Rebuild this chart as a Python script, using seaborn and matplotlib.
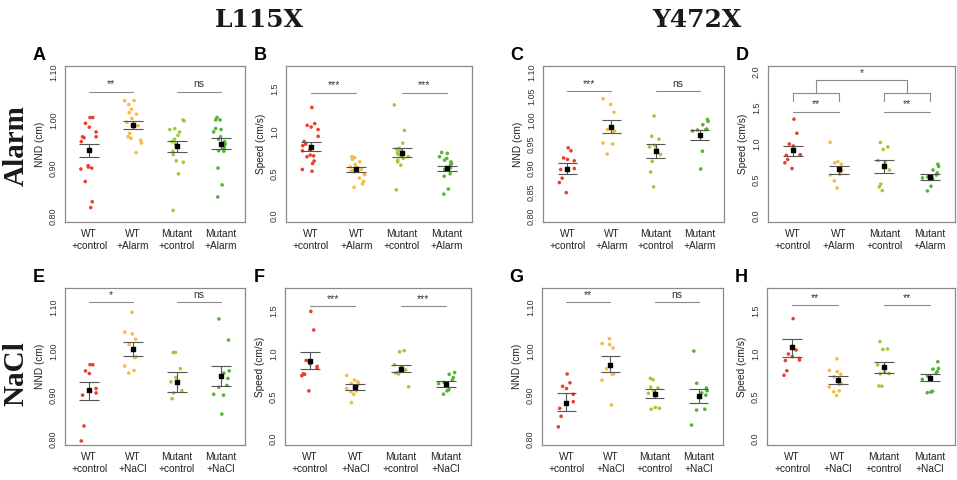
import numpy as np
import pandas as pd
import seaborn as sns
import matplotlib.pyplot as plt

sns.set_theme(style="white")
plt.rcParams['font.family'] = ['Liberation Sans', 'DejaVu Sans']

# ---- colours per group (WT ctrl, WT treat, Mutant ctrl, Mutant treat)
COLORS = ["#e8402c", "#f6bb43", "#9dcb3a", "#52b534"]
GREY = "#8a8a8a"

# ===============================
# Panel data
# ===============================
# A: L115X alarm, NND
a_wt_ctrl = [1.005, 1.005, 0.993, 0.985, 0.975, 0.965, 0.965, 0.963, 0.955, 0.905, 0.898,
             0.902, 0.900, 0.872, 0.830, 0.818]
a_wt_trt = [1.040, 1.040, 1.032, 1.022, 1.015, 1.012, 1.003, 0.995, 0.985, 0.988, 0.972,
            0.965, 0.962, 0.958, 0.952, 0.932]
a_mu_ctrl = [0.998, 1.000, 0.982, 0.980, 0.975, 0.968, 0.960, 0.955, 0.950, 0.945, 0.935,
             0.928, 0.915, 0.912, 0.888, 0.812]
a_mu_trt = [1.005, 1.000, 1.000, 0.982, 0.980, 0.975, 0.965, 0.960, 0.955, 0.950, 0.945,
            0.940, 0.936, 0.935, 0.900, 0.865, 0.840]
a_mean = [0.937, 0.990, 0.945, 0.950]
a_lo = [0.922, 0.981, 0.933, 0.939]
a_hi = [0.951, 0.998, 0.957, 0.962]

# B: L115X alarm, speed
b_wt_ctrl = [1.28, 1.09, 1.07, 1.05, 1.02, 0.94, 0.88, 0.85, 0.83, 0.78, 0.77, 0.72, 0.71,
             0.70, 0.65, 0.62, 0.55, 0.53]
b_wt_trt = [0.70, 0.69, 0.67, 0.64, 0.61, 0.58, 0.57, 0.55, 0.54, 0.53, 0.52, 0.50, 0.49,
            0.45, 0.41, 0.38, 0.34]
b_mu_ctrl = [1.31, 1.01, 0.86, 0.80, 0.79, 0.78, 0.77, 0.75, 0.73, 0.71, 0.70, 0.68, 0.66,
             0.64, 0.60, 0.31]
b_mu_trt = [0.75, 0.74, 0.70, 0.68, 0.66, 0.64, 0.62, 0.60, 0.57, 0.55, 0.50, 0.47, 0.32, 0.26]
b_mean = [0.813, 0.552, 0.746, 0.567]
b_lo = [0.770, 0.525, 0.694, 0.528]
b_hi = [0.873, 0.577, 0.800, 0.595]

# C: Y472X alarm, NND
c_wt_ctrl = [0.942, 0.936, 0.921, 0.918, 0.915, 0.899, 0.897, 0.879, 0.870, 0.849]
c_wt_trt = [1.044, 1.032, 1.016, 0.980, 0.977, 0.974, 0.952, 0.950, 0.929]
c_mu_ctrl = [1.008, 0.966, 0.960, 0.947, 0.944, 0.940, 0.928, 0.914, 0.892, 0.861]
c_mu_trt = [1.001, 0.997, 0.990, 0.981, 0.980, 0.979, 0.977, 0.935, 0.898]
c_mean = [0.899, 0.985, 0.936, 0.969]
c_lo = [0.887, 0.972, 0.921, 0.958]
c_hi = [0.910, 0.999, 0.949, 0.980]

# D: Y472X alarm, speed
d_wt_ctrl = [1.344, 1.149, 1.000, 0.972, 0.850, 0.847, 0.843, 0.786, 0.740, 0.660]
d_wt_trt = [1.023, 0.755, 0.720, 0.740, 0.640, 0.600, 0.570, 0.580, 0.490, 0.390]
d_mu_ctrl = [1.020, 0.960, 0.925, 0.770, 0.745, 0.640, 0.445, 0.405, 0.355]
d_mu_trt = [0.720, 0.690, 0.640, 0.600, 0.570, 0.545, 0.530, 0.520, 0.415, 0.350]
d_mean = [0.916, 0.647, 0.693, 0.544]
d_lo = [0.837, 0.581, 0.605, 0.507]
d_hi = [0.977, 0.698, 0.777, 0.591]

# E: L115X NaCl, NND
e_wt_ctrl = [0.969, 0.969, 0.955, 0.949, 0.915, 0.905, 0.900, 0.830, 0.796]
e_wt_trt = [1.088, 1.043, 1.039, 1.027, 1.015, 0.987, 0.985, 0.966, 0.956, 0.950]
e_mu_ctrl = [0.997, 0.997, 0.960, 0.940, 0.930, 0.928, 0.910, 0.905, 0.892]
e_mu_trt = [1.073, 1.025, 0.955, 0.950, 0.938, 0.922, 0.918, 0.902, 0.900, 0.857]
e_mean = [0.911, 1.005, 0.930, 0.944]
e_lo = [0.889, 0.989, 0.908, 0.921]
e_hi = [0.930, 1.020, 0.953, 0.966]

# F: L115X NaCl, speed
f_wt_ctrl = [1.494, 1.277, 0.921, 0.880, 0.850, 0.830, 0.763, 0.759, 0.743, 0.565]
f_wt_trt = [0.745, 0.692, 0.668, 0.652, 0.640, 0.620, 0.593, 0.565, 0.555, 0.525, 0.427]
f_mu_ctrl = [1.035, 1.022, 0.870, 0.845, 0.810, 0.780, 0.772, 0.763, 0.613]
f_mu_trt = [0.779, 0.759, 0.720, 0.690, 0.664, 0.650, 0.580, 0.565, 0.526]
f_mean = [0.917, 0.605, 0.826, 0.644]
f_lo = [0.818, 0.573, 0.783, 0.609]
f_hi = [1.016, 0.640, 0.870, 0.680]

# G: Y472X NaCl, NND
g_wt_ctrl = [0.948, 0.928, 0.920, 0.915, 0.902, 0.885, 0.870, 0.852, 0.828]
g_wt_trt = [1.028, 1.017, 1.015, 1.007, 0.960, 0.948, 0.948, 0.934, 0.878]
g_mu_ctrl = [0.938, 0.935, 0.918, 0.916, 0.910, 0.904, 0.872, 0.870, 0.868]
g_mu_trt = [1.000, 0.927, 0.916, 0.910, 0.905, 0.900, 0.868, 0.866, 0.832]
g_mean = [0.883, 0.969, 0.903, 0.898]
g_lo = [0.863, 0.953, 0.894, 0.882]
g_hi = [0.904, 0.988, 0.913, 0.915]

# H: Y472X NaCl, speed
h_wt_ctrl = [1.410, 1.043, 0.996, 0.965, 0.945, 0.925, 0.920, 0.800, 0.748]
h_wt_trt = [0.940, 0.805, 0.790, 0.760, 0.730, 0.650, 0.640, 0.610, 0.565, 0.555, 0.510]
h_mu_ctrl = [1.142, 1.055, 1.050, 0.870, 0.780, 0.768, 0.765, 0.622, 0.620]
h_mu_trt = [0.905, 0.827, 0.819, 0.790, 0.770, 0.740, 0.700, 0.560, 0.550, 0.543]
h_mean = [1.075, 0.689, 0.839, 0.717]
h_lo = [0.957, 0.642, 0.776, 0.681]
h_hi = [1.173, 0.736, 0.906, 0.768]

alarm_labels = ["WT\n+control", "WT\n+Alarm", "Mutant\n+control", "Mutant\n+Alarm"]
nacl_labels = ["WT\n+control", "WT\n+NaCl", "Mutant\n+control", "Mutant\n+NaCl"]

nnd_ticks = [0.80, 0.90, 1.00, 1.10]
nnd_ticks_fine = [0.80, 0.85, 0.90, 0.95, 1.00, 1.05, 1.10]
speed_ticks = [0.0, 0.5, 1.0, 1.5]
speed_ticks_d = [0.0, 0.5, 1.0, 1.5, 2.0]

W, H = 957, 480


def r_lim(lo, hi):
    # R style 4% extension
    pad = (hi - lo) * 0.04
    return lo - pad, hi + pad


def sig_bar(ax, x0, x1, y, txt):
    ax.plot([x0, x1], [y, y], color=GREY, lw=0.8)
    ax.annotate(txt, xy=((x0 + x1) / 2, y), xytext=(0, 1.5), textcoords="offset points",
                ha="center", va="bottom", fontsize=7.5, color="#333333")


def draw_panel(box, letter, groups, mean, lo, hi, xlabels, ylim, yticks, ylabel,
               fmt, sigs, sig_y, label_every=1):
    left, top, right, bottom = box
    ax = fig.add_axes([left / W, 1 - bottom / H, (right - left) / W, (bottom - top) / H])
    df = pd.DataFrame({
        "group": np.concatenate([[lab] * len(v) for lab, v in zip(xlabels, groups)]),
        "value": np.concatenate(groups),
    })
    np.random.seed(3)
    sns.stripplot(data=df, x="group", y="value", hue="group", order=xlabels,
                  palette=COLORS, jitter=0.2, size=2.6, linewidth=0, legend=False, ax=ax,
                  zorder=2)
    xs = np.arange(len(xlabels))
    ax.hlines(lo, xs - 0.22, xs + 0.22, color="#555555", lw=0.8, zorder=3)
    ax.hlines(hi, xs - 0.22, xs + 0.22, color="#555555", lw=0.8, zorder=3)
    ax.vlines(xs, lo, hi, color="#555555", lw=0.8, zorder=3)
    ax.scatter(xs, mean, marker="s", s=6, color="black", zorder=4)

    ax.set_xlim(-0.55, 3.55)
    ax.set_ylim(*r_lim(*ylim))
    ax.set_yticks(yticks)
    ax.set_yticklabels([(fmt % t) if i % label_every == 0 else "" for i, t in enumerate(yticks)],
                       rotation=90, va="center", fontsize=6.5, color="#333333")
    ax.set_xticks(xs)
    ax.set_xticklabels(xlabels, fontsize=7.3, color="#222222", linespacing=1.25)
    ax.set_xlabel("")
    ax.set_ylabel(ylabel, fontsize=7.3, color="#222222", labelpad=3)
    ax.tick_params(axis="both", direction="out", length=3, width=0.7, color=GREY, pad=2)
    for sp in ax.spines.values():
        sp.set_color(GREY)
        sp.set_linewidth(0.9)
    for (x0, x1), txt in zip([(0, 1), (2, 3)], sigs):
        sig_bar(ax, x0, x1, sig_y, txt)
    fig.text((left - 26) / W, 1 - (top - 10) / H, letter, fontsize=13, fontweight="bold",
             ha="center", va="center", color="black")
    return ax


fig = plt.figure(figsize=(9.57, 4.8), dpi=100)

draw_panel((65, 66, 245, 222), "A", [a_wt_ctrl, a_wt_trt, a_mu_ctrl, a_mu_trt], a_mean, a_lo, a_hi,
           alarm_labels, (0.80, 1.10), nnd_ticks, "NND (cm)", "%.2f", ["**", "ns"], 1.059)
draw_panel((286, 66, 472, 222), "B", [b_wt_ctrl, b_wt_trt, b_mu_ctrl, b_mu_trt], b_mean, b_lo, b_hi,
           alarm_labels, (0.0, 1.7), speed_ticks, "Speed (cm/s)", "%.1f", ["***", "***"], 1.456)
draw_panel((543, 66, 724, 222), "C", [c_wt_ctrl, c_wt_trt, c_mu_ctrl, c_mu_trt], c_mean, c_lo, c_hi,
           alarm_labels, (0.80, 1.10), nnd_ticks_fine, "NND (cm)", "%.2f", ["***", "ns"], 1.060)
ax_d = draw_panel((768, 66, 955, 222), "D", [d_wt_ctrl, d_wt_trt, d_mu_ctrl, d_mu_trt], d_mean, d_lo,
                  d_hi, alarm_labels, (0.0, 2.0), speed_ticks_d, "Speed (cm/s)", "%.1f",
                  ["**", "**"], 1.45)
# nested comparison brackets in D
for x0, x1 in [(0, 1), (2, 3)]:
    ax_d.plot([x0, x0, x1, x1], [1.59, 1.707, 1.707, 1.59], color=GREY, lw=0.8)
ax_d.plot([0.5, 0.5, 2.5, 2.5], [1.707, 1.888, 1.888, 1.707], color=GREY, lw=0.8)
ax_d.annotate("*", xy=(1.5, 1.888), xytext=(0, 1.5), textcoords="offset points",
              ha="center", va="bottom", fontsize=7.5, color="#333333")

draw_panel((65, 288, 245, 445), "E", [e_wt_ctrl, e_wt_trt, e_mu_ctrl, e_mu_trt], e_mean, e_lo, e_hi,
           nacl_labels, (0.80, 1.13), nnd_ticks, "NND (cm)", "%.2f", ["*", "ns"], 1.111)
draw_panel((285, 288, 471, 445), "F", [f_wt_ctrl, f_wt_trt, f_mu_ctrl, f_mu_trt], f_mean, f_lo, f_hi,
           nacl_labels, (0.0, 1.7), speed_ticks, "Speed (cm/s)", "%.1f", ["***", "***"], 1.553)
draw_panel((542, 288, 723, 445), "G", [g_wt_ctrl, g_wt_trt, g_mu_ctrl, g_mu_trt], g_mean, g_lo, g_hi,
           nacl_labels, (0.80, 1.13), nnd_ticks_fine, "NND (cm)", "%.2f", ["**", "ns"], 1.112,
           label_every=2)
draw_panel((767, 288, 955, 445), "H", [h_wt_ctrl, h_wt_trt, h_mu_ctrl, h_mu_trt], h_mean, h_lo, h_hi,
           nacl_labels, (0.0, 1.7), speed_ticks, "Speed (cm/s)", "%.1f", ["**", "**"], 1.567)

# column titles and row labels
serif = ["DejaVu Serif"]
fig.text(259 / W, 1 - 20 / H, "L115X", family=serif, fontweight="bold", fontsize=18,
         ha="center", va="center", color="#1a1a1a")
fig.text(697 / W, 1 - 20 / H, "Y472X", family=serif, fontweight="bold", fontsize=18,
         ha="center", va="center", color="#1a1a1a")
fig.text(16 / W, 1 - 146 / H, "Alarm", family=["Liberation Serif"], fontweight="bold",
         fontsize=21, rotation=90, ha="center", va="center", color="#1a1a1a")
fig.text(16 / W, 1 - 374 / H, "NaCl", family=["Liberation Serif"], fontweight="bold",
         fontsize=21, rotation=90, ha="center", va="center", color="#1a1a1a")

fig.savefig("out.png", dpi=100)
plt.close(fig)
